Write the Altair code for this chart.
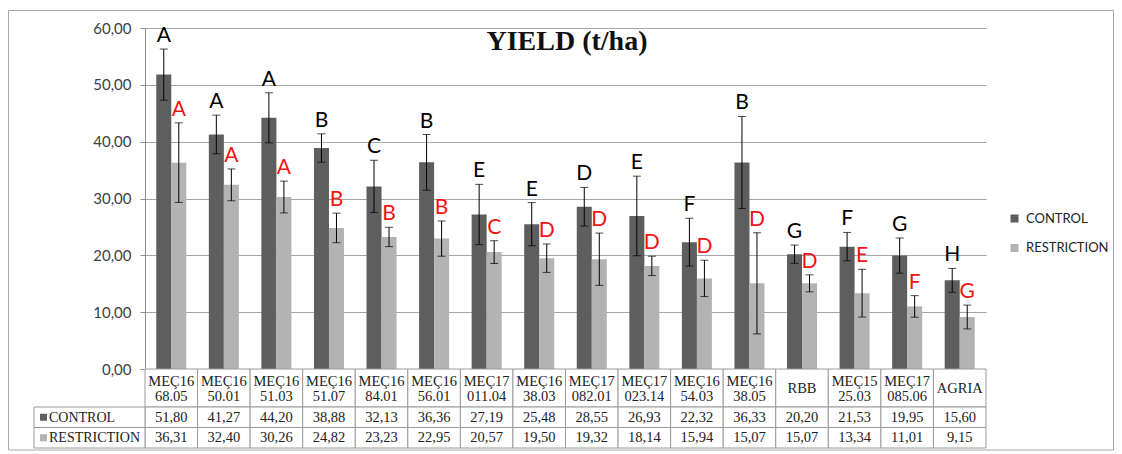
import altair as alt
import pandas as pd

title_text = "YIELD (t/ha)"
series = ["CONTROL", "RESTRICTION"]
series_colors = ["#5e5e5e", "#b3b3b3"]
categories = ["MEÇ16\n68.05", "MEÇ16\n50.01", "MEÇ16\n51.03", "MEÇ16\n51.07",
              "MEÇ16\n84.01", "MEÇ16\n56.01", "MEÇ17\n011.04", "MEÇ16\n38.03",
              "MEÇ17\n082.01", "MEÇ17\n023.14", "MEÇ16\n54.03", "MEÇ16\n38.05",
              "RBB", "MEÇ15\n25.03", "MEÇ17\n085.06", "AGRIA"]
control = [51.80, 41.27, 44.20, 38.88, 32.13, 36.36, 27.19, 25.48,
           28.55, 26.93, 22.32, 36.33, 20.20, 21.53, 19.95, 15.60]
restriction = [36.31, 32.40, 30.26, 24.82, 23.23, 22.95, 20.57, 19.50,
               19.32, 18.14, 15.94, 15.07, 15.07, 13.34, 11.01, 9.15]
control_err = [4.5, 3.4, 4.4, 2.5, 4.6, 4.9, 5.3, 3.8, 3.4, 7.0, 4.2, 8.1, 1.6, 2.5, 3.1, 2.1]
restriction_err = [7.0, 2.8, 2.8, 2.6, 1.7, 3.1, 2.0, 2.5, 4.6, 1.7, 3.2, 8.9, 1.5, 4.2, 1.9, 2.1]
control_letters = ["A", "A", "A", "B", "C", "B", "E", "E", "D", "E", "F", "B", "G", "F", "G", "H"]
restriction_letters = ["A", "A", "A", "B", "B", "B", "C", "D", "D", "D", "D", "D", "D", "E", "F", "G"]
y_ticks = [0, 10, 20, 30, 40, 50, 60]

rows = []
for s, vals, errs, lets in [("CONTROL", control, control_err, control_letters),
                            ("RESTRICTION", restriction, restriction_err, restriction_letters)]:
    for c, v, e, l in zip(categories, vals, errs, lets):
        rows.append(dict(cat=c, series=s, value=v, lo=v - e, hi=v + e, letter=l,
                         label=f"{v:.2f}".replace(".", ",")))
df = pd.DataFrame(rows)
cat_df = pd.DataFrame({"cat": categories,
                       "lines": [len(c.split("\n")) for c in categories]})
one = pd.DataFrame({"k": [0]})

W, H = 841, 341
GRID = "#a6a6a6"
TABLE = "#9a9a9a"
SERIF = "Liberation Serif"
SANS = "Lato"
TFS = 14.5

x_enc = alt.X("cat:N", sort=categories,
              scale=alt.Scale(domain=categories, paddingInner=0, paddingOuter=0), axis=None)
xoff = alt.XOffset("series:N", sort=series,
                   scale=alt.Scale(domain=series, paddingInner=0, paddingOuter=0.75))
yscale = alt.Scale(domain=[0, 60], nice=False, zero=True)
color_enc = alt.Color("series:N", sort=series,
                      scale=alt.Scale(domain=series, range=series_colors),
                      legend=alt.Legend(title=None, orient="none", legendX=863, legendY=184,
                                        symbolType="square", symbolSize=64, symbolStrokeWidth=0,
                                        labelFont=SANS, labelFontSize=13, labelColor="#222",
                                        labelOffset=5, rowPadding=15.5, padding=0))

bars = alt.Chart(df).mark_bar().encode(
    x=x_enc, xOffset=xoff,
    y=alt.Y("value:Q", scale=yscale, title=None,
            axis=alt.Axis(values=y_ticks, title=None, grid=True, gridColor=GRID,
                          domainColor="#8c8c8c", tickColor="#8c8c8c", tickSize=5,
                          labelPadding=9, labelFont=SANS, labelFontSize=15,
                          labelColor="#404040",
                          labelExpr="replace(format(datum.value, '.2f'), '.', ',')")),
    color=color_enc)

err_rule = alt.Chart(df).mark_rule(color="black", strokeWidth=1).encode(
    x=x_enc, xOffset=xoff, y=alt.Y("lo:Q", scale=yscale, title=None), y2="hi:Q")
cap_hi = alt.Chart(df).mark_tick(color="black", size=8, thickness=1).encode(
    x=x_enc, xOffset=xoff, y=alt.Y("hi:Q", scale=yscale, title=None))
cap_lo = alt.Chart(df).mark_tick(color="black", size=8, thickness=1).encode(
    x=x_enc, xOffset=xoff, y=alt.Y("lo:Q", scale=yscale, title=None))

layers = [bars, err_rule, cap_hi, cap_lo]

letter_colors = {"CONTROL": "#000000", "RESTRICTION": "#f01414"}
for s in series:
    layers.append(alt.Chart(df).transform_filter(alt.datum.series == s).mark_text(
        font=SANS, fontSize=21, baseline="alphabetic", dy=-7, color=letter_colors[s]).encode(
        x=x_enc, xOffset=xoff, y=alt.Y("hi:Q", scale=yscale, title=None), text="letter:N"))

# title
layers.append(alt.Chart(pd.DataFrame({"t": [title_text]})).mark_text(
    font=SERIF, fontSize=28, fontWeight="bold", baseline="middle", color="#111").encode(
    text="t:N", x=alt.value(422), y=alt.value(14)))

# data table below the plot: cells first, then text
row_tops = [H + 38, H + 58.5]
row_h = 20.5
layers.append(alt.Chart(cat_df).mark_rect(fill="white", stroke=TABLE, strokeWidth=1).encode(
    x=x_enc, y=alt.value(H), y2=alt.value(H + 38)))
for s, top in zip(series, row_tops):
    layers.append(alt.Chart(cat_df).mark_rect(fill="white", stroke=TABLE, strokeWidth=1).encode(
        x=x_enc, y=alt.value(top), y2=alt.value(top + row_h)))
    layers.append(alt.Chart(one).mark_rect(fill="white", stroke=TABLE, strokeWidth=1).encode(
        x=alt.value(-111), x2=alt.value(0), y=alt.value(top), y2=alt.value(top + row_h)))

# header labels: two-line ones start higher, single-line ones centred
layers.append(alt.Chart(cat_df).transform_filter(alt.datum.lines == 2).mark_text(
    font=SERIF, fontSize=TFS, lineBreak="\n", lineHeight=15, baseline="middle", color="#222").encode(
    x=x_enc, y=alt.value(H + 12.5), text="cat:N"))
layers.append(alt.Chart(cat_df).transform_filter(alt.datum.lines == 1).mark_text(
    font=SERIF, fontSize=TFS, baseline="middle", color="#222").encode(
    x=x_enc, y=alt.value(H + 20), text="cat:N"))

for s, top in zip(series, row_tops):
    sdf = alt.Chart(df).transform_filter(alt.datum.series == s)
    layers.append(sdf.mark_text(font=SERIF, fontSize=TFS, baseline="middle", color="#222").encode(
        x=x_enc, y=alt.value(top + row_h / 2 + 0.5), text="label:N"))
    layers.append(alt.Chart(pd.DataFrame({"series": [s]})).mark_text(
        font=SERIF, fontSize=14, baseline="middle", align="left", color="#222").encode(
        x=alt.value(-96), y=alt.value(top + row_h / 2 + 0.5), text="series:N"))
    layers.append(alt.Chart(pd.DataFrame({"series": [s]})).mark_square(size=49, opacity=1).encode(
        x=alt.value(-101.5), y=alt.value(top + row_h / 2), color=color_enc))

# outer border
layers.append(alt.Chart(one).mark_rect(fillOpacity=0, stroke="#a8a8a8", strokeWidth=1).encode(
    x=alt.value(-136.5), x2=alt.value(968.5), y=alt.value(-17.5), y2=alt.value(422)))

chart = alt.layer(*layers).properties(
    width=W, height=H,
    autosize=alt.AutoSizeParams(type="none"),
    padding={"left": 137, "top": 20, "right": 128, "bottom": 83},
    background="white",
).configure_view(stroke=None)

chart.save("out.html", embed_options={"renderer": "svg", "actions": False})
